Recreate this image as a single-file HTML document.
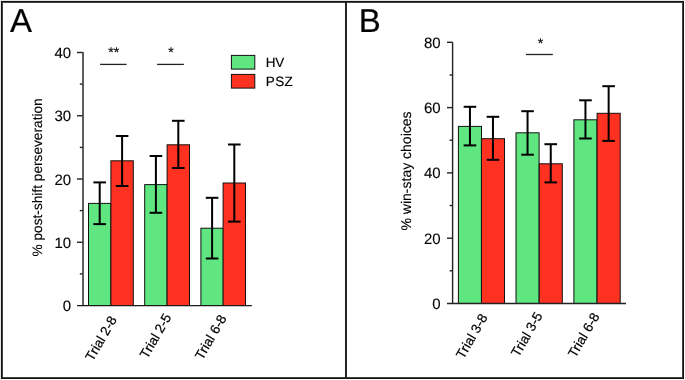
<!DOCTYPE html><html><head><meta charset="utf-8"><style>html,body{margin:0;padding:0;background:#fff;}svg{display:block;will-change:transform;}text{font-family:"Liberation Sans",sans-serif;text-rendering:geometricPrecision;fill:#000;}.r{stroke:#000;stroke-width:0.22px}.y{stroke:#000;stroke-width:0.12px}.l{stroke:#000;stroke-width:0.15px}.p{stroke:#000;stroke-width:0.2px}</style></head><body>
<svg width="685" height="380" viewBox="0 0 685 380">
<rect x="0" y="0" width="685" height="380" fill="#fff"/>
<rect x="0" y="0" width="685" height="1" fill="#e6e6e6"/><rect x="0" y="0" width="1" height="380" fill="#e6e6e6"/>
<g shape-rendering="crispEdges">
<rect x="1" y="1" width="683" height="1" fill="#111"/><rect x="2" y="2" width="681" height="1" fill="#444"/>
<rect x="1" y="1" width="1" height="378" fill="#111"/><rect x="2" y="2" width="1" height="376" fill="#444"/>
<rect x="683" y="1" width="1" height="378" fill="#111"/><rect x="682" y="2" width="1" height="376" fill="#444"/>
<rect x="1" y="378" width="683" height="1" fill="#111"/><rect x="2" y="377" width="681" height="1" fill="#444"/>
<rect x="345" y="2" width="1" height="376" fill="#1e1e1e"/><rect x="346" y="2" width="1" height="376" fill="#2a2a2a"/>
</g>
<rect x="88.5" y="203.4" width="22.4" height="102.1" fill="#60e680" stroke="#111" stroke-width="1"/>
<rect x="110.9" y="160.8" width="22.4" height="144.7" fill="#ff3120" stroke="#111" stroke-width="1"/>
<rect x="144.7" y="184.6" width="22.4" height="120.9" fill="#60e680" stroke="#111" stroke-width="1"/>
<rect x="167.1" y="144.8" width="22.4" height="160.7" fill="#ff3120" stroke="#111" stroke-width="1"/>
<rect x="200.9" y="228.2" width="22.4" height="77.3" fill="#60e680" stroke="#111" stroke-width="1"/>
<rect x="223.1" y="183" width="22.4" height="122.5" fill="#ff3120" stroke="#111" stroke-width="1"/>
<line x1="99.7" y1="182.4" x2="99.7" y2="224.1" stroke="#000" stroke-width="2"/>
<line x1="93.4" y1="182.4" x2="106.0" y2="182.4" stroke="#000" stroke-width="2"/>
<line x1="93.4" y1="224.1" x2="106.0" y2="224.1" stroke="#000" stroke-width="2"/>
<line x1="122.1" y1="136" x2="122.1" y2="186" stroke="#000" stroke-width="2"/>
<line x1="115.8" y1="136" x2="128.4" y2="136" stroke="#000" stroke-width="2"/>
<line x1="115.8" y1="186" x2="128.4" y2="186" stroke="#000" stroke-width="2"/>
<line x1="155.9" y1="156" x2="155.9" y2="212.8" stroke="#000" stroke-width="2"/>
<line x1="149.6" y1="156" x2="162.2" y2="156" stroke="#000" stroke-width="2"/>
<line x1="149.6" y1="212.8" x2="162.2" y2="212.8" stroke="#000" stroke-width="2"/>
<line x1="178.3" y1="120.8" x2="178.3" y2="168" stroke="#000" stroke-width="2"/>
<line x1="172" y1="120.8" x2="184.6" y2="120.8" stroke="#000" stroke-width="2"/>
<line x1="172" y1="168" x2="184.6" y2="168" stroke="#000" stroke-width="2"/>
<line x1="212.1" y1="197.8" x2="212.1" y2="258.5" stroke="#000" stroke-width="2"/>
<line x1="205.8" y1="197.8" x2="218.4" y2="197.8" stroke="#000" stroke-width="2"/>
<line x1="205.8" y1="258.5" x2="218.4" y2="258.5" stroke="#000" stroke-width="2"/>
<line x1="234.3" y1="144.5" x2="234.3" y2="221.6" stroke="#000" stroke-width="2"/>
<line x1="228" y1="144.5" x2="240.6" y2="144.5" stroke="#000" stroke-width="2"/>
<line x1="228" y1="221.6" x2="240.6" y2="221.6" stroke="#000" stroke-width="2"/>
<g stroke="#222" stroke-width="1.4" fill="none">
<line x1="83" y1="52" x2="83" y2="305.5" stroke="#5e5e5e" stroke-width="2"/>
<line x1="77" y1="305.6" x2="251.8" y2="305.6" stroke-width="1.2" stroke="#1a1a1a"/>
<line x1="77" y1="52.5" x2="82.6" y2="52.5"/>
<line x1="77" y1="115.75" x2="82.6" y2="115.75"/>
<line x1="77" y1="179" x2="82.6" y2="179"/>
<line x1="77" y1="242.25" x2="82.6" y2="242.25"/>
<line x1="79.8" y1="84.1" x2="82.6" y2="84.1"/>
<line x1="79.8" y1="147.4" x2="82.6" y2="147.4"/>
<line x1="79.8" y1="210.6" x2="82.6" y2="210.6"/>
<line x1="79.8" y1="273.9" x2="82.6" y2="273.9"/>
</g>
<g font-size="15" text-anchor="end" class="y">
<text x="71.2" y="58.1">40</text>
<text x="71.2" y="121.35">30</text>
<text x="71.2" y="184.6">20</text>
<text x="71.2" y="247.85">10</text>
<text x="71.2" y="311.1">0</text>
</g>
<g stroke="#222" stroke-width="1.3"><line x1="100.1" y1="64.4" x2="126.6" y2="64.4"/><line x1="157.1" y1="64.4" x2="183.9" y2="64.4"/></g>
<g font-size="14" text-anchor="middle" class="l"><text x="113.7" y="57.4">**</text><text x="170.9" y="57.4">*</text></g>
<rect x="231.4" y="55.4" width="23.4" height="13.7" fill="#60e680" stroke="#111" stroke-width="1"/>
<rect x="231.4" y="74.4" width="23.4" height="13.7" fill="#ff3120" stroke="#111" stroke-width="1"/>
<g font-size="13.5" class="l"><text x="265.8" y="66.6" letter-spacing="-0.2">HV</text><text x="265.8" y="85.7" letter-spacing="0.4">PSZ</text></g>
<text class="y" font-size="13.7" text-anchor="middle" transform="translate(41.7,177.4) rotate(-90)">% post-shift perseveration</text>
<text class="r" font-size="13.5"  text-anchor="end" transform="translate(117.3,319.5) rotate(-60)">Trial 2-8</text>
<text class="r" font-size="13.5"  text-anchor="end" transform="translate(171.8,317) rotate(-60)">Trial 2-5</text>
<text class="r" font-size="13.5"  text-anchor="end" transform="translate(226.9,318.2) rotate(-60)">Trial 6-8</text>
<text x="10" y="32.2" font-size="33" class="p">A</text>
<rect x="458.4" y="126.4" width="23.1" height="177.1" fill="#60e680" stroke="#111" stroke-width="1"/>
<rect x="481.4" y="138.7" width="23.1" height="164.8" fill="#ff3120" stroke="#111" stroke-width="1"/>
<rect x="516.0" y="132.8" width="23.1" height="170.7" fill="#60e680" stroke="#111" stroke-width="1"/>
<rect x="539.2" y="163.8" width="23.1" height="139.7" fill="#ff3120" stroke="#111" stroke-width="1"/>
<rect x="573.9" y="119.8" width="23.1" height="183.7" fill="#60e680" stroke="#111" stroke-width="1"/>
<rect x="597.1" y="113.3" width="23.1" height="190.2" fill="#ff3120" stroke="#111" stroke-width="1"/>
<line x1="469.95" y1="106.8" x2="469.95" y2="145.4" stroke="#000" stroke-width="2"/>
<line x1="463.65" y1="106.8" x2="476.25" y2="106.8" stroke="#000" stroke-width="2"/>
<line x1="463.65" y1="145.4" x2="476.25" y2="145.4" stroke="#000" stroke-width="2"/>
<line x1="492.95" y1="116.8" x2="492.95" y2="159.8" stroke="#000" stroke-width="2"/>
<line x1="486.65" y1="116.8" x2="499.25" y2="116.8" stroke="#000" stroke-width="2"/>
<line x1="486.65" y1="159.8" x2="499.25" y2="159.8" stroke="#000" stroke-width="2"/>
<line x1="527.55" y1="111.2" x2="527.55" y2="154.7" stroke="#000" stroke-width="2"/>
<line x1="521.25" y1="111.2" x2="533.85" y2="111.2" stroke="#000" stroke-width="2"/>
<line x1="521.25" y1="154.7" x2="533.85" y2="154.7" stroke="#000" stroke-width="2"/>
<line x1="550.75" y1="144.2" x2="550.75" y2="182.4" stroke="#000" stroke-width="2"/>
<line x1="544.45" y1="144.2" x2="557.05" y2="144.2" stroke="#000" stroke-width="2"/>
<line x1="544.45" y1="182.4" x2="557.05" y2="182.4" stroke="#000" stroke-width="2"/>
<line x1="585.45" y1="100.3" x2="585.45" y2="138.5" stroke="#000" stroke-width="2"/>
<line x1="579.15" y1="100.3" x2="591.75" y2="100.3" stroke="#000" stroke-width="2"/>
<line x1="579.15" y1="138.5" x2="591.75" y2="138.5" stroke="#000" stroke-width="2"/>
<line x1="608.65" y1="86.2" x2="608.65" y2="140.9" stroke="#000" stroke-width="2"/>
<line x1="602.35" y1="86.2" x2="614.95" y2="86.2" stroke="#000" stroke-width="2"/>
<line x1="602.35" y1="140.9" x2="614.95" y2="140.9" stroke="#000" stroke-width="2"/>
<g stroke="#222" stroke-width="1.4" fill="none">
<line x1="452.6" y1="42.3" x2="452.6" y2="303.5"/>
<line x1="447" y1="303.5" x2="626" y2="303.5"/>
<line x1="447" y1="42.3" x2="452.6" y2="42.3"/>
<line x1="447" y1="107.6" x2="452.6" y2="107.6"/>
<line x1="447" y1="172.9" x2="452.6" y2="172.9"/>
<line x1="447" y1="238.2" x2="452.6" y2="238.2"/>
<line x1="449.6" y1="75" x2="452.6" y2="75"/>
<line x1="449.6" y1="140.2" x2="452.6" y2="140.2"/>
<line x1="449.6" y1="205.5" x2="452.6" y2="205.5"/>
<line x1="449.6" y1="270.8" x2="452.6" y2="270.8"/>
</g>
<g font-size="15" text-anchor="end" class="y">
<text x="440.7" y="47.8">80</text>
<text x="440.7" y="113.1">60</text>
<text x="440.7" y="178.4">40</text>
<text x="440.7" y="243.7">20</text>
<text x="440.7" y="309.0">0</text>
</g>
<line x1="525.9" y1="54.5" x2="552.8" y2="54.5" stroke="#222" stroke-width="1.3"/>
<text x="540.5" y="47.5" font-size="14" text-anchor="middle" class="l">*</text>
<text class="y" font-size="14" text-anchor="middle" transform="translate(410.8,171) rotate(-90)">% win-stay choices</text>
<text class="r" font-size="13.5"  text-anchor="end" transform="translate(488.1,317.25) rotate(-60)">Trial 3-8</text>
<text class="r" font-size="13.5"  text-anchor="end" transform="translate(543.05,315.4) rotate(-60)">Trial 3-5</text>
<text class="r" font-size="13.5"  text-anchor="end" transform="translate(599.9,316.15) rotate(-60)">Trial 6-8</text>
<text x="358.8" y="32.2" font-size="33" class="p">B</text>
</svg></body></html>
